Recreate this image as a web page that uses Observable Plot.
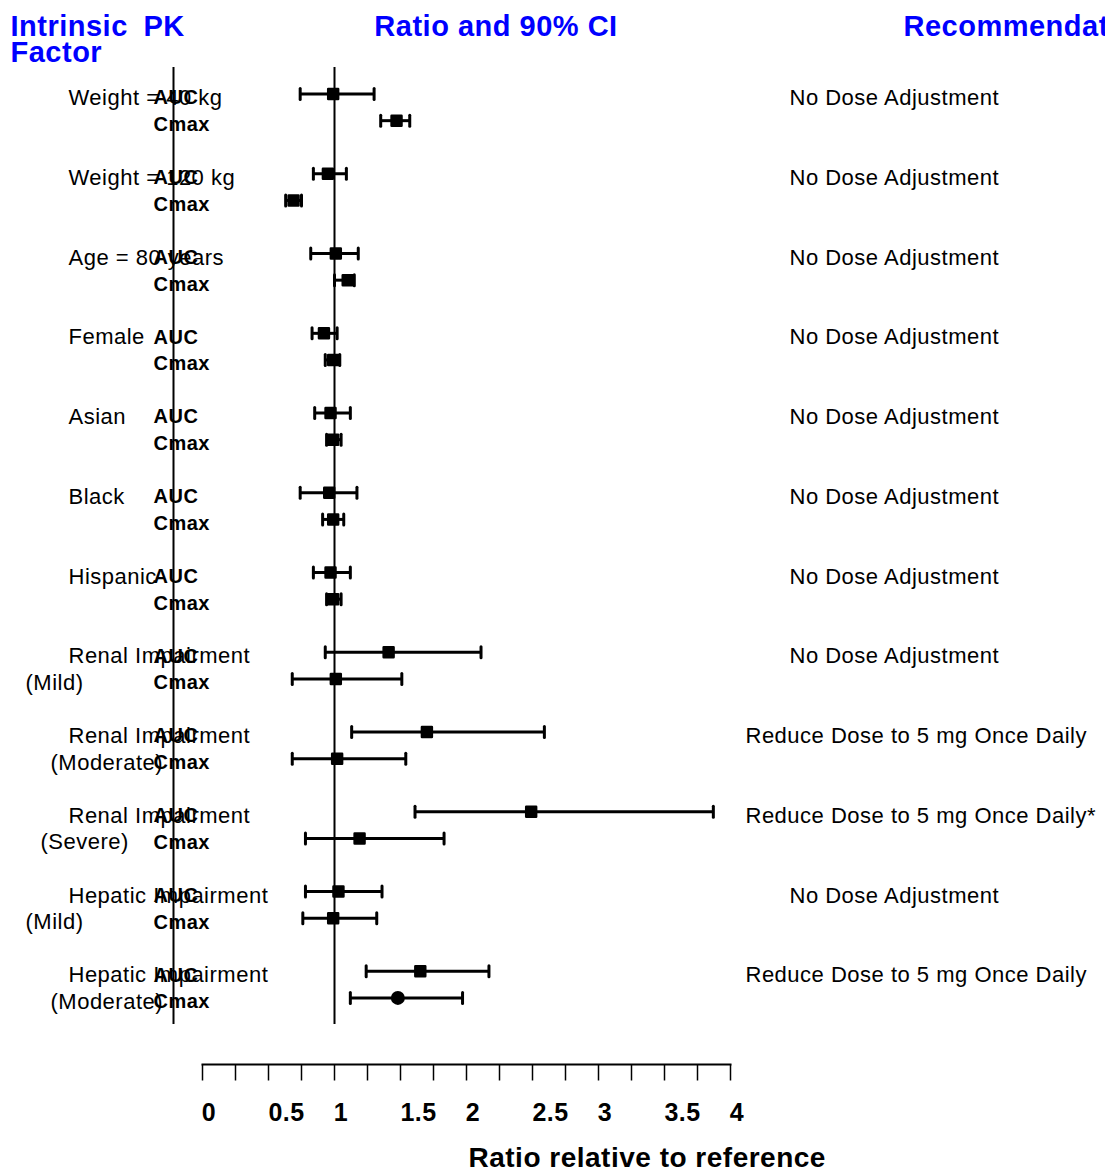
<!DOCTYPE html>
<html>
<head>
<meta charset="utf-8">
<script src="https://cdn.jsdelivr.net/npm/d3@7"></script>
<script src="https://cdn.jsdelivr.net/npm/@observablehq/plot@0.6"></script>
<style>
html, body { margin: 0; padding: 0; background: #fff; }
#chart svg text { letter-spacing: 0.5px; }
</style>
</head>
<body>
<div id="chart"></div>
<script>
// ---- data ----
const headers = ["Intrinsic", "Factor", "PK", "Ratio and 90% CI", "Recommendation"];
const factors = ["Weight = 40 kg", "Weight = 120 kg", "Age = 80 years", "Female", "Asian", "Black", "Hispanic",
  "Renal Impairment", "Renal Impairment", "Renal Impairment", "Hepatic Impairment", "Hepatic Impairment"];
const subLabels = ["", "", "", "", "", "", "", "(Mild)", "(Moderate)", "(Severe)", "(Mild)", "(Moderate)"];
const pkParams = ["AUC", "Cmax"];
const aucRatio = [0.99, 0.95, 1.01, 0.92, 0.97, 0.96, 0.97, 1.41, 1.70, 2.49, 1.03, 1.65];
const aucLower = [0.74, 0.84, 0.82, 0.83, 0.85, 0.74, 0.84, 0.93, 1.13, 1.61, 0.78, 1.24];
const aucUpper = [1.30, 1.09, 1.18, 1.02, 1.12, 1.17, 1.12, 2.11, 2.59, 3.87, 1.36, 2.17];
const cmaxRatio = [1.47, 0.69, 1.10, 0.99, 0.99, 0.99, 0.99, 1.01, 1.02, 1.19, 0.99, 1.48];
const cmaxLower = [1.35, 0.63, 1.00, 0.93, 0.94, 0.91, 0.94, 0.68, 0.68, 0.78, 0.76, 1.12];
const cmaxUpper = [1.57, 0.75, 1.15, 1.04, 1.05, 1.07, 1.05, 1.51, 1.54, 1.83, 1.32, 1.97];
const NDA = "No Dose Adjustment";
const RED = "Reduce Dose to 5 mg Once Daily";
const recommendations = [NDA, NDA, NDA, NDA, NDA, NDA, NDA, NDA, RED, RED + "*", NDA, RED];
const xTicks = [0, 0.25, 0.5, 0.75, 1, 1.25, 1.5, 1.75, 2, 2.25, 2.5, 2.75, 3, 3.25, 3.5, 3.75, 4];
const xTickLabels = [0, 0.5, 1, 1.5, 2, 2.5, 3, 3.5, 4];
const xLabel = "Ratio relative to reference";
const reference = 1;

// ---- tables ----
const groups = factors.map((f, g) => ({factor: f, sub: subLabels[g], rec: recommendations[g], row: g * 3}));
const rows = factors.flatMap((f, g) => [
  {factor: f, sub: subLabels[g], param: pkParams[0], row: g * 3, ratio: aucRatio[g], lo: aucLower[g], hi: aucUpper[g]},
  {factor: f, sub: subLabels[g], param: pkParams[1], row: g * 3 + 1, ratio: cmaxRatio[g], lo: cmaxLower[g], hi: cmaxUpper[g]}
]);
const isCircle = (d) => d.factor === "Hepatic Impairment" && d.sub === "(Moderate)" && d.param === "Cmax";
const yDomain = [d3.min(rows, d => d.row) - 1, d3.max(rows, d => d.row) + 1];

// custom symbols
const vbar = {draw(ctx, size) { const h = Math.sqrt(size / Math.PI); ctx.moveTo(0, -h); ctx.lineTo(0, h); }};
const tickDown = {draw(ctx, size) { const h = Math.sqrt(size / Math.PI); ctx.moveTo(0, 0); ctx.lineTo(0, h); }};

const headerStyle = {fontSize: 29, fontWeight: "bold", fill: "#0000FF", lineAnchor: "middle"};
const subStyle = {frameAnchor: "left", textAnchor: "start", dy: 4, fontSize: 22};

const chart = Plot.plot({
  width: 1105,
  height: 1170,
  marginLeft: 202,
  marginRight: 375,
  marginTop: 67,
  marginBottom: 146,
  style: {fontFamily: '"Liberation Sans", Arial, Helvetica, sans-serif', background: "#fff", color: "#000", overflow: "hidden"},
  x: {domain: [0, 4], axis: null},
  y: {domain: yDomain, reverse: true, axis: null},
  marks: [
    // headers
    Plot.text([headers[0]], {text: d => d, frameAnchor: "top-left", textAnchor: "start", dx: -192, dy: -40.8, ...headerStyle}),
    Plot.text([headers[1]], {text: d => d, frameAnchor: "top-left", textAnchor: "start", dx: -192, dy: -14.6, ...headerStyle}),
    Plot.text([headers[2]], {text: d => d, frameAnchor: "top-left", textAnchor: "start", dx: -59, dy: -40.8, ...headerStyle}),
    Plot.text([headers[3]], {text: d => d, frameAnchor: "top", textAnchor: "middle", dx: 29.5, dy: -40.8, ...headerStyle}),
    Plot.text([headers[4]], {text: d => d, frameAnchor: "top-right", textAnchor: "start", dx: 173, dy: -40.8, ...headerStyle}),

    // vertical lines
    Plot.ruleX([0], {dx: -29, stroke: "#000", strokeWidth: 2}),
    Plot.ruleX([reference], {stroke: "#000", strokeWidth: 2}),

    // factor labels
    Plot.text(groups, {y: "row", text: "factor", ...subStyle, dx: -134}),
    Plot.text(groups.filter(d => d.sub === "(Mild)"), {y: d => d.row + 1, text: "sub", ...subStyle, dx: -177}),
    Plot.text(groups.filter(d => d.sub === "(Moderate)"), {y: d => d.row + 1, text: "sub", ...subStyle, dx: -152}),
    Plot.text(groups.filter(d => d.sub === "(Severe)"), {y: d => d.row + 1, text: "sub", ...subStyle, dx: -162}),

    // PK labels
    Plot.text(rows, {y: "row", text: "param", frameAnchor: "left", textAnchor: "start", dx: -49, dy: 4, fontSize: 20, fontWeight: "bold"}),

    // recommendations
    Plot.text(groups.filter(d => d.rec === NDA), {y: "row", text: "rec", frameAnchor: "right", textAnchor: "start", dx: 59, dy: 4, fontSize: 22}),
    Plot.text(groups.filter(d => d.rec !== NDA), {y: "row", text: "rec", frameAnchor: "right", textAnchor: "start", dx: 15, dy: 4, fontSize: 22}),

    // CI bars
    Plot.ruleY(rows, {x1: "lo", x2: "hi", y: "row", stroke: "#000", strokeWidth: 3}),
    Plot.dot(rows, {x: "lo", y: "row", symbol: vbar, r: 5.5, fill: "none", stroke: "#000", strokeWidth: 3, strokeLinecap: "round"}),
    Plot.dot(rows, {x: "hi", y: "row", symbol: vbar, r: 5.5, fill: "none", stroke: "#000", strokeWidth: 3, strokeLinecap: "round"}),

    // point estimates
    Plot.dot(rows.filter(d => !isCircle(d)), {x: "ratio", y: "row", symbol: "square", r: 5.6, fill: "#000", stroke: "#000", strokeWidth: 2.5, strokeLinejoin: "round"}),
    Plot.dot(rows.filter(isCircle), {x: "ratio", y: "row", r: 7, fill: "#000", stroke: "none"}),

    // x axis
    Plot.frame({anchor: "bottom", dy: 40, stroke: "#000", strokeWidth: 2}),
    Plot.dot(xTicks, {x: d => d, frameAnchor: "bottom", dy: 40, symbol: tickDown, r: 16, fill: "none", stroke: "#000", strokeWidth: 1.5}),
    Plot.text(xTickLabels.filter(Number.isInteger), {x: d => d, text: d => String(d), frameAnchor: "bottom", lineAnchor: "middle", dy: 88, dx: 6.5, fontSize: 25, fontWeight: "bold"}),
    Plot.text(xTickLabels.filter(d => !Number.isInteger(d)), {x: d => d, text: d => String(d), frameAnchor: "bottom", lineAnchor: "middle", dy: 88, dx: 18, fontSize: 25, fontWeight: "bold"}),
    Plot.text([xLabel], {text: d => d, frameAnchor: "bottom-left", lineAnchor: "middle", textAnchor: "start", dx: 266, dy: 134, fontSize: 28, fontWeight: "bold"})
  ]
});
document.getElementById("chart").appendChild(chart);
</script>
</body>
</html>
